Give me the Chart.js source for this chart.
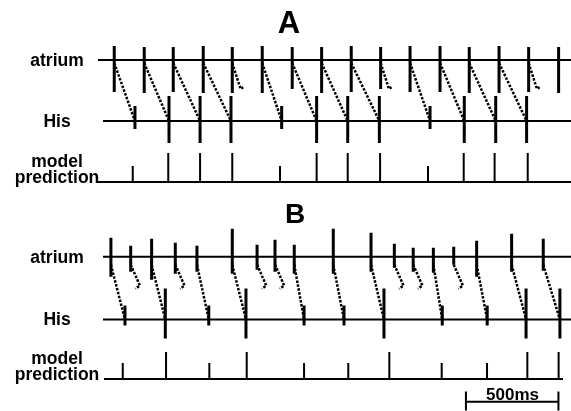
<!DOCTYPE html>
<html><head><meta charset="utf-8">
<script src="https://cdn.jsdelivr.net/npm/chart.js@4.4.1/dist/chart.umd.min.js"></script>
<style>html,body{margin:0;padding:0;background:#fff}#wrap{width:571px;height:411px}</style>
</head><body><div id="wrap"><canvas id="c" width="571" height="411"></canvas></div>
<script>
// ---------- Panel A data (times in ms) ----------
const atrialTimesA = [77, 239, 396, 558, 715, 877, 1039, 1198, 1358, 1517, 1676, 1838, 1996, 2157, 2317, 2479];
const atrialUpA    = [14, 13, 13, 14, 13, 14, 13, 13, 14, 13, 14, 14, 13, 14, 13, 13];
const atrialDownA  = [32, 33, 32, 33, 33, 33, 29, 33, 32, 29, 32, 32, 33, 33, 32, 33];
const hisTimesA    = [189, 373, 541, 708, 982, 1171, 1339, 1510, 1784, 1969, 2139, 2306];
const hisTypeA     = ['S', 'L', 'L', 'L', 'S', 'L', 'L', 'L', 'S', 'L', 'L', 'L'];
const modelTimesA  = [177, 369, 541, 715, 973, 1171, 1339, 1514, 1773, 1966, 2133, 2312];
const modelTypeA   = ['S', 'L', 'L', 'L', 'S', 'L', 'L', 'L', 'S', 'L', 'L', 'L'];
// index of His spike reached by each atrial beat; -1 = blocked, null = no line
const conductionA  = [0, 1, 2, 3, -1, 4, 5, 6, 7, -1, 8, 9, 10, 11, -1, null];

// ---------- Panel B data (times in ms) ----------
const atrialTimesB = [59, 166, 279, 407, 524, 715, 849, 946, 1050, 1261, 1465, 1591, 1693, 1802, 1912, 2036, 2225, 2396];
const atrialUpB    = [19, 11, 18, 14, 11, 28, 12, 17, 12, 28, 24, 13, 9, 9, 10, 16, 23, 18];
const atrialDownB  = [20, 15, 23, 17, 15, 17, 13, 15, 17, 17, 15, 11, 15, 16, 8, 20, 15, 14];
const hisTimesB    = [135, 353, 588, 789, 1103, 1319, 1535, 1850, 2093, 2303, 2486];
const hisTypeB     = ['S', 'L', 'S', 'L', 'S', 'S', 'L', 'S', 'S', 'L', 'L'];
const modelTimesB  = [123, 357, 591, 793, 1103, 1342, 1564, 1847, 2092, 2310, 2479];
const modelTypeB   = ['S', 'L', 'S', 'L', 'S', 'S', 'L', 'S', 'S', 'L', 'L'];
const conductionB  = [0, -1, 1, -1, 2, 3, -1, -1, 4, 5, 6, -1, -1, 7, -1, 8, 9, 10];

// ---------- Labels ----------
const panelTitles  = ['A', 'B'];
const trackLabels  = ['atrium', 'His', ['model', 'prediction']];
const scaleBarMs   = 500;
const scaleBarStart = 1978;
const scaleBarLabel = '500ms';

// ---------- Layout (pixels) ----------
const msPerPx = 500 / 92.5;
const X_MIN = -100 * msPerPx, X_MAX = 471 * msPerPx;
const px = p => (p - 100) * msPerPx;
const L = {
  A: { atr: 60, his: 121, model: 182, titleX: 289, titleY: 33, titleSize: 31,
       hisL: [25, 22], hisS: [15, 8], modL: 29, modS: 16,
       atrStart: px(98), hisStart: px(103), modStart: px(98), modEnd: X_MAX,
       cStart: 3, blk: [[45, 29], [60, 27]] },
  B: { atr: 256.7, his: 319.5, model: 379, titleX: 295, titleY: 223, titleSize: 28,
       hisL: [31, 19], hisS: [14, 6], modL: 27, modS: 16,
       atrStart: px(103), hisStart: px(103), modStart: px(104), modEnd: px(563),
       cStart: 8, blk: [[50, 29], [25, 32]] }
};

function gap(d, x) { d.push({ x: x, y: null }); }
function seg(d, x1, y1, x2, y2) { d.push({ x: x1, y: y1 }, { x: x2, y: y2 }); gap(d, x2); }

const baseData = [], atrData = [], hisData = [], modData = [], conData = [], barData = [];

function buildPanel(lay, aT, aU, aD, hT, hTy, mT, mTy, con) {
  seg(baseData, lay.atrStart, lay.atr, X_MAX, lay.atr);
  seg(baseData, lay.hisStart, lay.his, X_MAX, lay.his);
  seg(baseData, lay.modStart, lay.model, lay.modEnd, lay.model);
  aT.forEach((t, i) => seg(atrData, t, lay.atr - aU[i], t, lay.atr + aD[i]));
  hT.forEach((t, i) => {
    const h = hTy[i] === 'L' ? lay.hisL : lay.hisS;
    seg(hisData, t, lay.his - h[0], t, lay.his + h[1]);
  });
  mT.forEach((t, i) => {
    const h = mTy[i] === 'L' ? lay.modL : lay.modS;
    seg(modData, t, lay.model - h, t, lay.model);
  });
  con.forEach((c, i) => {
    if (c === null) return;
    const t = aT[i];
    if (c >= 0) {
      seg(conData, t, lay.atr + lay.cStart, hT[c], lay.his);
    } else {
      conData.push({ x: t, y: lay.atr + lay.cStart },
                   { x: t + lay.blk[0][0], y: lay.atr + lay.blk[0][1] },
                   { x: t + lay.blk[1][0], y: lay.atr + lay.blk[1][1] });
      gap(conData, t);
    }
  });
}
buildPanel(L.A, atrialTimesA, atrialUpA, atrialDownA, hisTimesA, hisTypeA, modelTimesA, modelTypeA, conductionA);
buildPanel(L.B, atrialTimesB, atrialUpB, atrialDownB, hisTimesB, hisTypeB, modelTimesB, modelTypeB, conductionB);

// scale bar
seg(barData, scaleBarStart, 401.7, scaleBarStart + scaleBarMs, 401.7);
seg(barData, scaleBarStart, 391.5, scaleBarStart, 410.5);
seg(barData, scaleBarStart + scaleBarMs, 391.5, scaleBarStart + scaleBarMs, 410.5);

function ds(data, w, dash) {
  return { data: data, borderColor: '#000', borderWidth: w, borderDash: dash || [],
           pointRadius: 0, fill: false, tension: 0, spanGaps: false, borderCapStyle: 'butt' };
}

const labelPlugin = {
  id: 'labels',
  afterDatasetsDraw(chart) {
    const ctx = chart.ctx;
    ctx.save();
    ctx.fillStyle = '#000';
    ctx.textAlign = 'center';
    [L.A, L.B].forEach((lay, k) => {
      ctx.font = 'bold ' + lay.titleSize + 'px "Liberation Sans", Arial, sans-serif';
      ctx.textBaseline = 'alphabetic';
      ctx.fillText(panelTitles[k], lay.titleX, lay.titleY);
      ctx.font = 'bold 17.5px "Liberation Sans", Arial, sans-serif';
      ctx.textBaseline = 'middle';
      ctx.fillText(trackLabels[0], 57, lay.atr + 1);
      ctx.fillText(trackLabels[1], 57, lay.his + 1);
      ctx.fillText(trackLabels[2][0], 57, lay.model - 20);
      ctx.fillText(trackLabels[2][1], 57, lay.model - 3.5);
    });
    ctx.font = 'bold 17px "Liberation Sans", Arial, sans-serif';
    ctx.textBaseline = 'alphabetic';
    ctx.fillText(scaleBarLabel, 512.5, 400);
    ctx.restore();
  }
};

new Chart(document.getElementById('c'), {
  type: 'line',
  data: { datasets: [ds(baseData, 2), ds(atrData, 3), ds(hisData, 3), ds(modData, 2),
                     ds(conData, 2.5, [2.5, 1.5]), ds(barData, 2)] },
  options: {
    responsive: false, animation: false, events: [],
    layout: { padding: 0 },
    plugins: { legend: { display: false }, tooltip: { enabled: false }, title: { display: false } },
    scales: {
      x: { type: 'linear', min: X_MIN, max: X_MAX, display: false },
      y: { type: 'linear', min: 0, max: 411, reverse: true, display: false }
    }
  },
  plugins: [labelPlugin]
});
</script>
</body></html>
